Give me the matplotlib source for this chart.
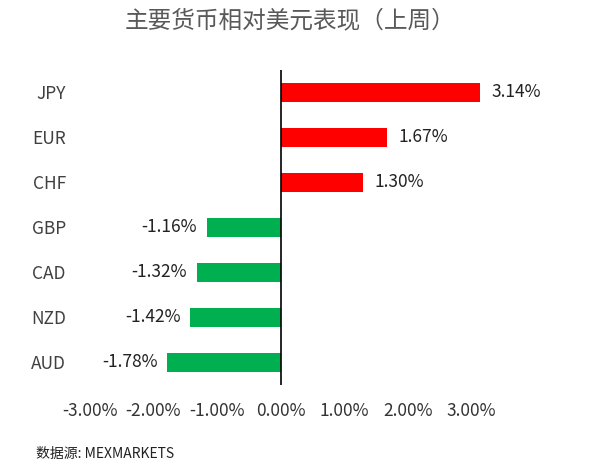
import matplotlib.pyplot as plt

plt.rcParams['font.family'] = ['Noto Sans CJK SC', 'DejaVu Sans']

currencies = ['JPY', 'EUR', 'CHF', 'GBP', 'CAD', 'NZD', 'AUD']
changes = [3.14, 1.67, 1.30, -1.16, -1.32, -1.42, -1.78]
xticks = [-3, -2, -1, 0, 1, 2, 3]

fig = plt.figure(figsize=(5.92, 4.66), dpi=100)
ax = fig.add_axes([0.130, 0.174, 0.688, 0.676])

ypos = list(range(len(currencies)))[::-1]
colors = ['#ff0000' if v > 0 else '#00b050' for v in changes]
ax.barh(ypos, changes, height=0.44, color=colors)
for y, v in zip(ypos, changes):
    if v > 0:
        ax.text(v + 0.18, y, f'{v:.2f}%', va='center', ha='left', fontsize=12.5, color='#222222')
    else:
        ax.text(v - 0.15, y, f'{v:.2f}%', va='center', ha='right', fontsize=12.5, color='#222222')

ax.axvline(0, color='black', lw=1.2)
ax.set_xlim(-3.2, 3.2)
ax.set_ylim(-0.5, 6.5)
ax.set_yticks(ypos)
ax.set_yticklabels(currencies, fontsize=12.5, color='#404040')
ax.set_xticks(xticks)
ax.set_xticklabels([f'{t:.2f}%' for t in xticks], fontsize=12.5, color='#333333')
ax.tick_params(length=0)
ax.tick_params(axis='x', pad=12)
ax.tick_params(axis='y', pad=8)
for s in ax.spines.values():
    s.set_visible(False)

fig.text(0.49, 0.955, '主要货币相对美元表现（上周）', ha='center', va='center',
         fontsize=17, color='#595959')
fig.text(0.06, 0.025, '数据源: MEXMARKETS', ha='left', va='center', fontsize=10, color='#222222')

fig.savefig('out.png')
